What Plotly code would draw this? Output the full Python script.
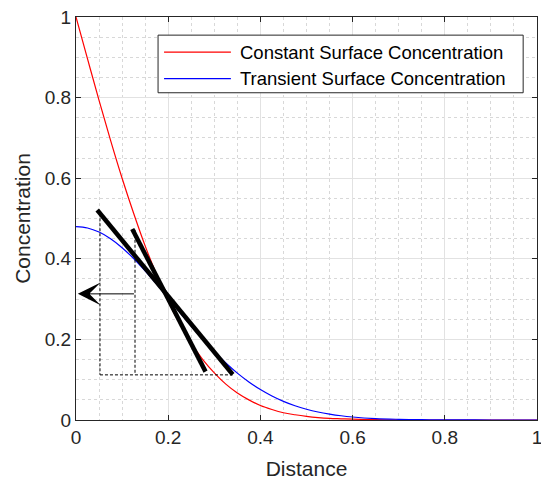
import plotly.graph_objects as go

# ---- data ----
distance = [0, 0.025, 0.05, 0.075, 0.1, 0.125, 0.15, 0.175, 0.2, 0.225, 0.25, 0.275,
            0.3, 0.325, 0.35, 0.375, 0.4, 0.425, 0.45, 0.475, 0.5, 0.525, 0.55, 0.575,
            0.6, 0.65, 0.7, 0.75, 0.8, 0.9, 1.0]
constant_conc = [1.0, 0.896, 0.793, 0.694, 0.600, 0.513, 0.432, 0.360, 0.295, 0.239, 0.190, 0.150,
                 0.117, 0.089, 0.067, 0.050, 0.036, 0.026, 0.018, 0.013, 0.009, 0.006, 0.004, 0.003,
                 0.002, 0.0007, 0.0002, 0.0, 0.0, 0.0, 0.0]
transient_conc = [0.480, 0.4765, 0.4663, 0.4498, 0.4276, 0.4007, 0.3701, 0.3369, 0.3023, 0.2674, 0.2330, 0.2002,
                  0.1696, 0.1416, 0.1164, 0.0945, 0.0755, 0.0595, 0.0462, 0.0353, 0.0267, 0.0198, 0.0146, 0.0105,
                  0.0075, 0.0036, 0.0017, 0.0007, 0.0003, 0.0, 0.0]

tangent_blue_x = [0.046, 0.340]
tangent_blue_y = [0.521, 0.113]
tangent_red_x = [0.122, 0.281]
tangent_red_y = [0.474, 0.120]

dash_v1_x = [0.052, 0.052]
dash_v1_y = [0.513, 0.112]
dash_v2_x = [0.128, 0.128]
dash_v2_y = [0.472, 0.112]
dash_h_x = [0.052, 0.340]
dash_h_y = [0.112, 0.112]

arrow_from = (0.129, 0.313)
arrow_to = (0.004, 0.313)

tick_vals = [0, 0.2, 0.4, 0.6, 0.8, 1.0]
tick_text = ["0", "0.2", "0.4", "0.6", "0.8", "1"]

legend_labels = ["Constant Surface Concentration", "Transient Surface Concentration"]
red = "#ff0000"
blue = "#0000ff"
ink = "#262626"

fig = go.Figure()
fig.add_trace(go.Scatter(x=distance, y=constant_conc, mode="lines", line=dict(color=red, width=1.2, shape="spline"),
                         name=legend_labels[0]))
fig.add_trace(go.Scatter(x=distance, y=transient_conc, mode="lines", line=dict(color=blue, width=1.2, shape="spline"),
                         name=legend_labels[1]))

for xs, ys in [(dash_v1_x, dash_v1_y), (dash_v2_x, dash_v2_y), (dash_h_x, dash_h_y)]:
    fig.add_trace(go.Scatter(x=xs, y=ys, mode="lines", line=dict(color="black", width=1, dash="3px,2px"),
                             hoverinfo="skip"))

for xs, ys in [(tangent_blue_x, tangent_blue_y), (tangent_red_x, tangent_red_y)]:
    fig.add_trace(go.Scatter(x=xs, y=ys, mode="lines", line=dict(color="black", width=4.5), hoverinfo="skip"))

fig.add_annotation(x=arrow_to[0], y=arrow_to[1], ax=arrow_from[0], ay=arrow_from[1],
                   xref="x", yref="y", axref="x", ayref="y", text="", showarrow=True,
                   arrowhead=3, arrowsize=3.8, arrowwidth=1, arrowcolor="black")

# manual legend (MATLAB style)
fig.add_shape(type="rect", xref="paper", yref="paper", x0=0.178, x1=0.970, y0=0.812, y1=0.955,
              fillcolor="white", line=dict(color=ink, width=1), layer="above")
leg_y = [0.913, 0.847]
for lbl, col, yy in zip(legend_labels, [red, blue], leg_y):
    fig.add_shape(type="line", xref="paper", yref="paper", x0=0.191, x1=0.336, y0=yy, y1=yy,
                  line=dict(color=col, width=1.2), layer="above")
    fig.add_annotation(x=0.351, y=yy, xref="paper", yref="paper", text=lbl, showarrow=False,
                       xanchor="left", yanchor="middle", font=dict(size=18.5, color="black"))

axis_common = dict(
    range=[0, 1], tickvals=tick_vals, ticktext=tick_text, ticks="inside", ticklen=5,
    tickcolor=ink, showline=True, linecolor=ink, linewidth=1, mirror="ticks",
    showgrid=True, gridcolor="#e2e2e2", gridwidth=1, zeroline=False,
    minor=dict(dtick=0.05, showgrid=True, gridcolor="#d8d8d8", griddash="dot", gridwidth=1),
    tickfont=dict(size=19, color=ink), ticklabeloverflow="allow",
)
fig.update_xaxes(**axis_common, title=dict(text="Distance", font=dict(size=21, color=ink), standoff=14))
fig.update_yaxes(**axis_common, title=dict(text="Concentration", font=dict(size=21, color=ink), standoff=8))

fig.update_layout(width=541, height=487, margin=dict(l=76, r=4, t=17, b=67, autoexpand=False),
                  plot_bgcolor="white", paper_bgcolor="white", showlegend=False,
                  font=dict(family="Liberation Sans, Arial, sans-serif", color=ink))

fig.write_html("out.html", config={"displayModeBar": False},
               post_script="document.body.style.margin='0';document.body.style.overflow='hidden';")
